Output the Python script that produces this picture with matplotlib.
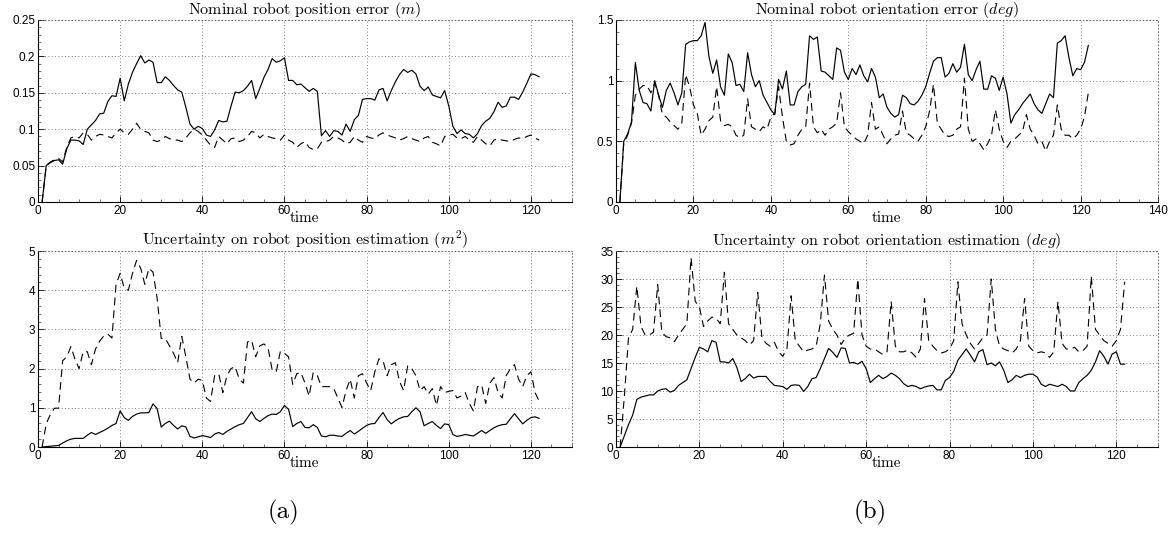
import numpy as np
import matplotlib
matplotlib.use("Agg")
import matplotlib.pyplot as plt
from matplotlib.ticker import AutoMinorLocator

plt.rcParams['mathtext.fontset'] = 'cm'
plt.rcParams['font.family'] = ['Liberation Sans', 'DejaVu Sans']

time = np.arange(1, 123)

pos_err_solid = [0, 0.050, 0.054, 0.057, 0.058, 0.052, 0.073, 0.085, 0.085, 0.084,
 0.079, 0.100, 0.106, 0.112, 0.121, 0.122, 0.138, 0.146, 0.145, 0.170,
 0.139, 0.162, 0.178, 0.190, 0.201, 0.191, 0.195, 0.192, 0.164, 0.164,
 0.172, 0.167, 0.160, 0.154, 0.151, 0.130, 0.107, 0.100, 0.104, 0.101,
 0.092, 0.090, 0.099, 0.112, 0.110, 0.111, 0.132, 0.151, 0.150, 0.153,
 0.159, 0.167, 0.142, 0.156, 0.171, 0.182, 0.197, 0.192, 0.194, 0.198,
 0.167, 0.167, 0.161, 0.162, 0.157, 0.152, 0.156, 0.152, 0.091, 0.098,
 0.090, 0.098, 0.097, 0.092, 0.107, 0.097, 0.113, 0.119, 0.141, 0.142,
 0.142, 0.140, 0.154, 0.156, 0.139, 0.153, 0.165, 0.175, 0.182, 0.178,
 0.181, 0.176, 0.159, 0.153, 0.158, 0.147, 0.145, 0.143, 0.153, 0.132,
 0.104, 0.094, 0.099, 0.094, 0.093, 0.088, 0.094, 0.105, 0.111, 0.115,
 0.124, 0.137, 0.130, 0.132, 0.144, 0.144, 0.141, 0.151, 0.163, 0.176,
 0.175, 0.172]

pos_err_dashed = [0, 0.050, 0.055, 0.058, 0.060, 0.055, 0.075, 0.088, 0.090, 0.088,
 0.095, 0.093, 0.085, 0.090, 0.093, 0.092, 0.090, 0.088, 0.095, 0.100,
 0.095, 0.093, 0.100, 0.108, 0.100, 0.097, 0.095, 0.085, 0.083, 0.085,
 0.090, 0.087, 0.085, 0.085, 0.083, 0.088, 0.095, 0.100, 0.097, 0.092,
 0.085, 0.078, 0.075, 0.090, 0.085, 0.080, 0.087, 0.088, 0.083, 0.085,
 0.090, 0.097, 0.095, 0.088, 0.093, 0.090, 0.088, 0.087, 0.085, 0.092,
 0.085, 0.082, 0.075, 0.080, 0.083, 0.075, 0.072, 0.073, 0.082, 0.083,
 0.085, 0.090, 0.088, 0.085, 0.080, 0.082, 0.090, 0.085, 0.082, 0.090,
 0.088, 0.087, 0.092, 0.095, 0.092, 0.090, 0.088, 0.085, 0.087, 0.090,
 0.087, 0.085, 0.083, 0.088, 0.090, 0.082, 0.080, 0.077, 0.090, 0.092,
 0.093, 0.088, 0.087, 0.090, 0.085, 0.082, 0.090, 0.085, 0.080, 0.077,
 0.085, 0.087, 0.085, 0.084, 0.083, 0.086, 0.088, 0.087, 0.090, 0.092,
 0.088, 0.085]

ori_err_solid = [0, 0.50, 0.56, 0.66, 1.15, 0.92, 0.82, 0.81, 0.75, 1.00,
 0.88, 0.78, 0.92, 0.98, 0.90, 0.80, 0.90, 1.30, 1.32, 1.33,
 1.33, 1.37, 1.48, 1.20, 1.06, 1.17, 0.95, 0.88, 1.22, 1.15,
 0.96, 0.97, 0.91, 1.23, 1.05, 0.95, 1.00, 0.88, 0.82, 0.76,
 0.72, 1.01, 0.93, 1.08, 0.80, 0.80, 0.91, 0.95, 0.97, 1.37,
 1.34, 1.36, 1.08, 1.07, 1.04, 1.01, 1.27, 1.25, 1.07, 1.01,
 1.10, 1.05, 1.13, 1.04, 0.99, 1.10, 1.03, 0.86, 0.89, 0.78,
 0.73, 0.70, 0.72, 0.88, 0.86, 0.81, 0.80, 0.83, 0.88, 0.95,
 1.06, 1.16, 1.19, 1.19, 1.03, 1.06, 1.14, 1.07, 1.11, 1.30,
 1.05, 1.00, 1.09, 1.16, 0.93, 0.93, 1.04, 1.02, 0.92, 1.03,
 0.89, 0.65, 0.72, 0.76, 0.81, 0.85, 0.89, 0.81, 0.76, 0.73,
 0.81, 0.89, 0.86, 1.31, 1.33, 1.37, 1.19, 1.04, 1.10, 1.09,
 1.15, 1.29]

ori_err_dashed = [0, 0.48, 0.55, 0.65, 0.88, 0.93, 0.96, 0.96, 0.90, 0.98,
 0.88, 0.72, 0.70, 0.66, 0.63, 0.60, 0.65, 1.05, 0.95, 0.80,
 0.73, 0.55, 0.60, 0.67, 0.70, 0.95, 0.67, 0.63, 0.64, 0.62,
 0.55, 0.53, 0.55, 0.85, 0.62, 0.60, 0.58, 0.62, 0.60, 0.70,
 0.73, 0.95, 0.70, 0.50, 0.47, 0.48, 0.55, 0.60, 0.62, 0.98,
 0.62, 0.57, 0.60, 0.55, 0.60, 0.62, 0.65, 0.90, 0.62, 0.58,
 0.55, 0.52, 0.50, 0.48, 0.55, 0.82, 0.60, 0.62, 0.55, 0.48,
 0.52, 0.55, 0.56, 0.75, 0.57, 0.55, 0.52, 0.50, 0.55, 0.62,
 0.75, 0.97, 0.65, 0.60, 0.55, 0.54, 0.55, 0.60, 0.62, 1.02,
 0.60, 0.50, 0.52, 0.48, 0.43, 0.48, 0.55, 0.76, 0.60, 0.50,
 0.45, 0.50, 0.52, 0.55, 0.58, 0.72, 0.60, 0.55, 0.48, 0.50,
 0.42, 0.50, 0.55, 0.80, 0.60, 0.55, 0.55, 0.52, 0.55, 0.60,
 0.70, 0.90]

pos_unc_solid = [0, 0.01, 0.02, 0.03, 0.04, 0.10, 0.16, 0.20, 0.22, 0.22,
 0.22, 0.30, 0.37, 0.32, 0.37, 0.42, 0.48, 0.55, 0.60, 0.92,
 0.75, 0.68, 0.78, 0.84, 0.87, 0.87, 0.88, 1.10, 0.98, 0.51,
 0.60, 0.66, 0.55, 0.46, 0.54, 0.51, 0.27, 0.23, 0.26, 0.29,
 0.27, 0.24, 0.33, 0.37, 0.32, 0.40, 0.46, 0.52, 0.57, 0.60,
 0.75, 0.90, 0.72, 0.65, 0.73, 0.80, 0.84, 0.83, 0.90, 1.06,
 0.96, 0.52, 0.60, 0.65, 0.50, 0.49, 0.57, 0.50, 0.28, 0.26,
 0.30, 0.30, 0.28, 0.27, 0.35, 0.42, 0.33, 0.40, 0.48, 0.55,
 0.59, 0.60, 0.75, 0.88, 0.70, 0.59, 0.67, 0.73, 0.77, 0.78,
 0.90, 1.00, 0.90, 0.54, 0.60, 0.65, 0.55, 0.47, 0.59, 0.57,
 0.32, 0.27, 0.29, 0.32, 0.30, 0.28, 0.35, 0.42, 0.35, 0.42,
 0.49, 0.54, 0.57, 0.58, 0.72, 0.85, 0.72, 0.59, 0.68, 0.75,
 0.77, 0.73]

pos_unc_dashed = [0, 0.59, 0.83, 0.99, 0.99, 2.20, 2.30, 2.56, 2.24, 2.00,
 2.43, 2.43, 2.10, 2.50, 2.70, 2.83, 2.88, 2.78, 4.15, 4.43,
 4.05, 4.00, 4.43, 4.76, 4.56, 4.15, 4.56, 4.46, 3.80, 2.77,
 2.77, 2.58, 2.39, 2.15, 2.82, 2.30, 1.73, 1.63, 1.73, 1.70,
 1.25, 1.16, 1.82, 1.87, 1.39, 1.82, 2.00, 2.05, 1.73, 1.63,
 2.68, 2.72, 2.30, 2.58, 2.63, 2.53, 1.97, 1.92, 2.44, 2.39,
 2.30, 1.60, 1.87, 1.90, 1.63, 1.30, 1.90, 1.82, 1.54, 1.54,
 1.54, 1.49, 1.25, 1.01, 1.44, 1.73, 1.25, 1.82, 1.87, 1.63,
 1.44, 1.92, 2.25, 2.20, 1.82, 2.10, 2.15, 1.68, 1.44, 2.07,
 2.00, 1.82, 1.44, 1.54, 1.35, 1.49, 1.06, 1.54, 1.39, 1.42,
 1.44, 1.25, 1.30, 1.39, 1.11, 0.92, 1.54, 1.58, 1.11, 1.63,
 1.77, 1.39, 1.25, 1.82, 2.00, 2.10, 1.73, 1.54, 1.82, 1.92,
 1.39, 1.17]

ori_unc_solid = [0, 2.0, 4.0, 5.7, 8.5, 8.9, 9.1, 9.3, 9.3, 10.0,
 10.3, 10.4, 9.8, 10.1, 11.0, 11.5, 12.0, 14.0, 16.0, 17.8,
 17.5, 17.0, 19.0, 18.7, 15.2, 15.2, 15.0, 15.8, 14.2, 11.7,
 12.2, 13.0, 12.3, 12.6, 12.6, 12.6, 11.7, 11.0, 10.9, 10.8,
 10.3, 11.0, 11.1, 11.0, 9.9, 10.8, 12.2, 12.4, 14.0, 15.8,
 17.6, 16.9, 16.0, 17.7, 17.6, 15.0, 15.1, 14.8, 15.3, 14.0,
 11.5, 12.2, 12.8, 12.2, 12.6, 13.2, 12.8, 12.2, 11.3, 10.8,
 11.0, 10.8, 10.4, 10.7, 10.9, 11.0, 10.2, 10.2, 11.9, 12.4,
 13.5, 15.5, 16.5, 17.5, 16.4, 15.2, 17.0, 17.4, 14.7, 15.0,
 14.5, 15.2, 13.7, 11.5, 12.0, 12.8, 12.4, 12.8, 13.0, 13.0,
 12.5, 11.2, 10.8, 11.2, 11.0, 10.8, 11.2, 10.8, 10.0, 10.0,
 11.5, 12.2, 12.8, 13.7, 15.2, 17.2, 16.2, 14.8, 16.6, 17.0,
 14.8, 14.8]

ori_unc_dashed = [0, 9.0, 19.5, 21.0, 28.7, 21.5, 20.0, 20.0, 20.5, 29.0,
 20.5, 19.7, 19.5, 18.8, 20.0, 21.0, 22.0, 33.8, 26.0, 25.0,
 21.5, 22.5, 23.2, 23.0, 22.0, 31.2, 22.0, 21.0, 20.0, 19.5,
 19.0, 18.2, 19.0, 27.6, 19.5, 18.5, 18.0, 18.7, 17.0, 16.2,
 17.5, 27.0, 19.0, 18.0, 17.0, 17.3, 17.5, 18.0, 22.0, 30.7,
 22.5, 21.0, 20.0, 18.3, 19.5, 20.0, 20.3, 30.0, 20.0, 18.0,
 17.5, 17.5, 17.0, 16.5, 17.0, 26.0, 18.0, 17.0, 17.0, 17.3,
 16.8, 16.0, 17.5, 26.5, 19.0, 18.0, 17.2, 16.8, 17.0, 17.5,
 19.0, 29.5, 22.0, 20.0, 18.5, 17.5, 18.5, 19.5, 20.0, 30.0,
 21.0, 18.0, 17.5, 17.2, 16.8, 17.5, 19.0, 26.5, 18.0, 17.2,
 16.8, 17.0, 16.8, 16.0, 17.0, 26.0, 18.5, 17.5, 17.5, 17.8,
 17.0, 17.2, 18.0, 30.5, 21.0, 20.0, 19.0, 18.5, 18.0, 19.0,
 21.0, 29.5]

titles = [r"Nominal robot position error $(m)$",
          r"Nominal robot orientation error $(deg)$",
          r"Uncertainty on robot position estimation $(m^2)$",
          r"Uncertainty on robot orientation estimation $(deg)$"]

W, H = 1168, 533
fig = plt.figure(figsize=(W / 100, H / 100), dpi=100)


def make_axes(x0, x1, ytop, ybot):
    return fig.add_axes([x0 / W, 1 - ybot / H, (x1 - x0) / W, (ybot - ytop) / H])


panels = [
    (make_axes(38, 572, 20, 202), pos_err_solid, pos_err_dashed, (0, 130), (0, 0.25),
     [0, 0.05, 0.1, 0.15, 0.2, 0.25], ["0", "0.05", "0.1", "0.15", "0.2", "0.25"], titles[0]),
    (make_axes(616, 1158, 20, 202), ori_err_solid, ori_err_dashed, (0, 140), (0, 1.5),
     [0, 0.5, 1, 1.5], ["0", "0.5", "1", "1.5"], titles[1]),
    (make_axes(38, 572, 251, 447), pos_unc_solid, pos_unc_dashed, (0, 130), (0, 5),
     [0, 1, 2, 3, 4, 5], ["0", "1", "2", "3", "4", "5"], titles[2]),
    (make_axes(616, 1158, 251, 447), ori_unc_solid, ori_unc_dashed, (0, 130), (0, 35),
     [0, 5, 10, 15, 20, 25, 30, 35], ["0", "5", "10", "15", "20", "25", "30", "35"], titles[3]),
]

for ax, solid, dashed, xl, yl, yt, ytl, title in panels:
    ax.plot(time, solid, color='black', lw=0.85)
    ax.plot(time, dashed, color='black', lw=0.8, dashes=(7, 4.5))
    ax.set_xlim(*xl)
    ax.set_ylim(*yl)
    xt = list(range(0, xl[1] + 1, 20))
    ax.set_xticks(xt)
    ax.set_xticklabels([str(v) for v in xt])
    ax.set_yticks(yt)
    ax.set_yticklabels(ytl)
    ax.grid(True, color='#555555', linestyle=(0, (1, 3)), linewidth=0.6)
    for side in ('top', 'right'):
        ax.spines[side].set_linestyle((0, (1, 3)))
        ax.spines[side].set_linewidth(0.6)
        ax.spines[side].set_color('#555555')
    ax.spines['left'].set_linewidth(0.8)
    ax.spines['bottom'].set_linewidth(0.8)
    ax.tick_params(direction='in', length=4, width=0.6, labelsize=8.5, pad=2,
                   top=False, right=False)
    ax.xaxis.set_minor_locator(AutoMinorLocator(4))
    ax.yaxis.set_minor_locator(AutoMinorLocator(5))
    ax.tick_params(which='minor', direction='in', length=2, width=0.4,
                   top=False, right=False)
    ax.set_title(title, fontsize=11.5, family='cmr10', pad=1)
    ax.set_xlabel(r"time", fontsize=11, family='cmr10', labelpad=-4)

fig.text(283 / W, 1 - 512 / H, r"(a)", fontsize=18, family='cmr10', ha='center', va='center')
fig.text(870 / W, 1 - 512 / H, r"(b)", fontsize=18, family='cmr10', ha='center', va='center')

fig.savefig("out.png", dpi=100)
